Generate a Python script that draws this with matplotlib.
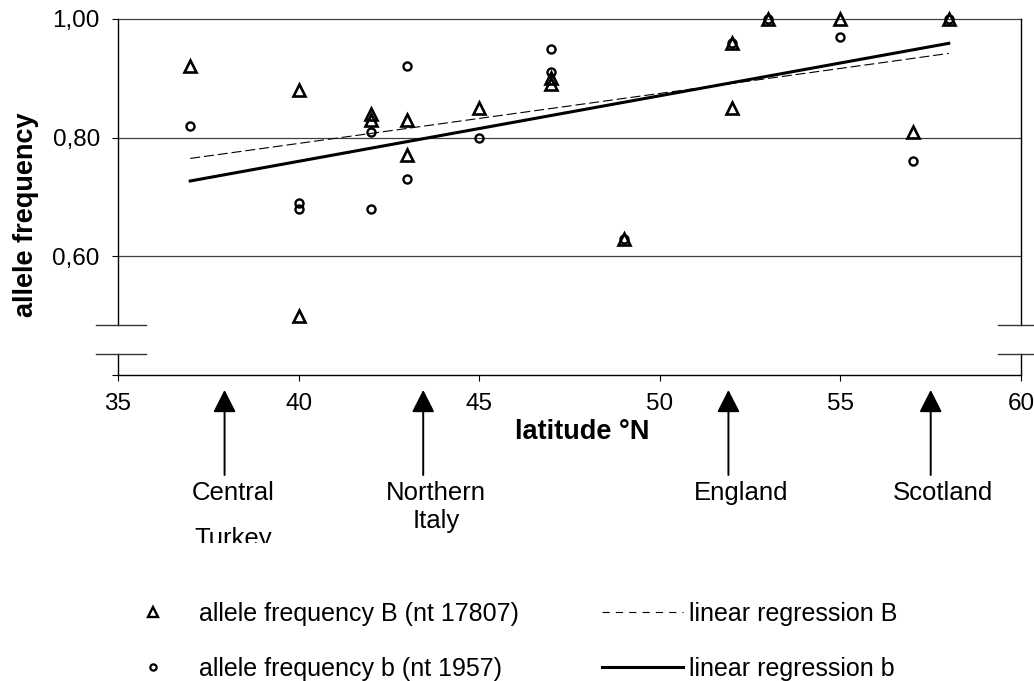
import numpy as np
import matplotlib.pyplot as plt
from matplotlib.lines import Line2D
from matplotlib.transforms import Bbox, TransformedBbox

plt.rcParams['font.family'] = ['Liberation Sans', 'DejaVu Sans']

# allele frequency B (nt 17807), triangles
lat_B = [37, 40, 40, 42, 42, 43, 43, 45, 47, 47, 49, 52, 52, 53, 55, 57, 58]
freq_B = [0.92, 0.88, 0.50, 0.84, 0.83, 0.83, 0.77, 0.85, 0.90, 0.89, 0.63,
          0.96, 0.85, 1.00, 1.00, 0.81, 1.00]

# allele frequency b (nt 1957), circles
lat_b = [37, 40, 40, 42, 42, 43, 43, 45, 47, 47, 49, 52, 53, 55, 57, 58]
freq_b = [0.82, 0.69, 0.68, 0.81, 0.68, 0.92, 0.73, 0.80, 0.95, 0.91, 0.63,
          0.96, 1.00, 0.97, 0.76, 1.00]

# regression lines (end points)
reg_x = [37, 58]
reg_B = [0.765, 0.942]
reg_b = [0.727, 0.959]

# regions marked below the axis
arrow_lat = [37.95, 43.45, 51.9, 57.5]
region_top = ['Central', 'Northern', 'England', 'Scotland']
region_bottom = ['Turkey', 'Italy', '', '']

fig = plt.figure(figsize=(10.34, 6.81), dpi=100)
ax = fig.add_axes([118/1034, 1 - 375/681, (1021 - 118)/1034, 356/681])
ax.set_xlim(35, 60)
ax.set_ylim(0.4, 1.0)

for s in ['left', 'right', 'top']:
    ax.spines[s].set_visible(False)
ax.spines['bottom'].set_linewidth(1.0)

# gridlines
for v in (0.6, 0.8, 1.0):
    ax.axhline(v, color='#404040', lw=0.9, clip_on=False, zorder=1)

# broken vertical axes
for xs in (35, 60):
    ax.plot([xs, xs], [0.4, 0.436], color='k', lw=1.0, clip_on=False)
    ax.plot([xs, xs], [0.485, 1.0], color='k', lw=1.0, clip_on=False)
for x0, x1 in ((34.39, 35.78), (59.36, 60.4)):
    for yb in (0.485, 0.436):
        ax.plot([x0, x1], [yb, yb], color='#333333', lw=1.0, clip_on=False)

ax.set_xticks([35, 40, 45, 50, 55, 60])
ax.set_yticks([0.4, 0.6, 0.8, 1.0])
ax.set_yticklabels(['', '0,60', '0,80', '1,00'])
ax.tick_params(direction='out', length=4.5, width=0.8, pad=8.6, labelsize=17.5)

ax.plot(lat_B, freq_B, ls='none', marker='^', ms=9, mfc='none', mec='k',
        mew=1.9, clip_on=False, zorder=3)
ax.plot(lat_b, freq_b, ls='none', marker='o', ms=5.8, mfc='none', mec='k',
        mew=1.7, clip_on=False, zorder=4)

ax.plot(reg_x, reg_B, color='k', lw=0.8, dashes=(9, 3.5), zorder=2)
ax.plot(reg_x, reg_b, color='k', lw=2.2, zorder=2)

ax.set_xlabel('latitude °N', fontsize=19.5, fontweight='bold')
ax.set_ylabel('allele frequency', fontsize=19.5, fontweight='bold')
ax.xaxis.set_label_coords(0.514, -0.1225)
ax.yaxis.set_label_coords(-0.0875, 0.449)

clip = TransformedBbox(Bbox([[0, 138/681], [1, 1]]), fig.transFigure)
for lat, top, bot in zip(arrow_lat, region_top, region_bottom):
    ax.annotate('', xy=(lat, -0.042), xytext=(lat, -0.281),
                xycoords=('data', 'axes fraction'),
                textcoords=('data', 'axes fraction'),
                arrowprops=dict(arrowstyle='-|>,head_length=0.55,head_width=0.28',
                                mutation_scale=25, color='k', lw=1.4,
                                shrinkA=0, shrinkB=0))
    tx = lat + (0.24 if top == 'Central' else 0.35)
    ax.text(tx, -0.3511, top, transform=ax.get_xaxis_transform(),
            ha='center', va='baseline', fontsize=18.5)
    if bot:
        yb = -0.4792 if bot == 'Turkey' else -0.4306
        t = ax.text(tx, yb, bot, transform=ax.get_xaxis_transform(),
                    ha='center', va='baseline', fontsize=18.5)
        t.set_clip_box(clip)
        t.set_clip_on(True)

handles = [
    Line2D([], [], ls='none', marker='^', ms=6.5, mfc='none', mec='k', mew=1.7),
    Line2D([], [], ls='none', marker='o', ms=4.5, mfc='none', mec='k', mew=1.6),
    Line2D([], [], color='k', lw=0.8, dashes=(6.5, 5.5)),
    Line2D([], [], color='k', lw=2.2),
]
labels = ['allele frequency B (nt 17807)', 'allele frequency b (nt 1957)',
          'linear regression B', 'linear regression b']
fig.legend(handles, labels, loc='upper left', bbox_to_anchor=(0.1088, 0.1167),
           ncol=2, frameon=False, fontsize=18, handlelength=3.24,
           handletextpad=0.24, columnspacing=3.3, labelspacing=1.25,
           borderpad=0, borderaxespad=0, numpoints=1)

fig.savefig('out.png', dpi=100)
